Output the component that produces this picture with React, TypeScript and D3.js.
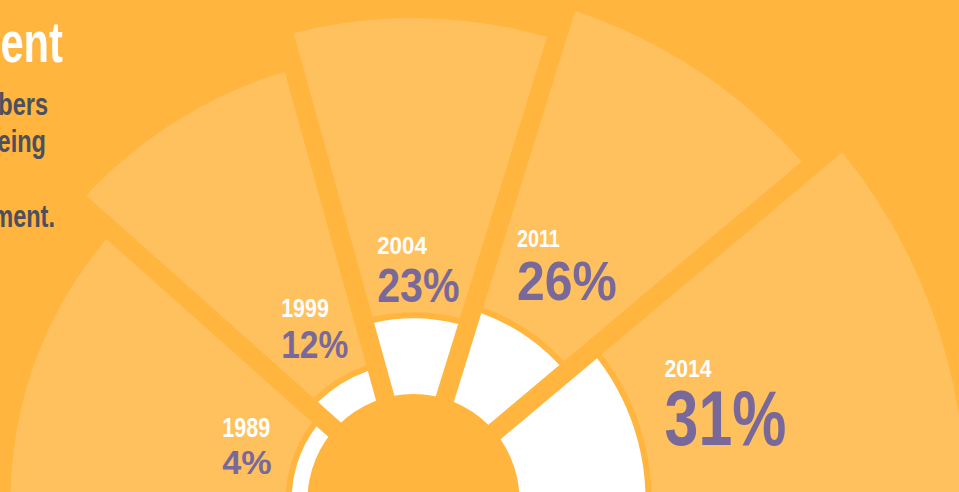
import React from 'react';
import * as d3 from 'd3';

// ---- data ----
const years: string[] = ['1989', '1999', '2004', '2011', '2014'];
const shares: number[] = [4, 12, 23, 26, 31]; // percent
const outerReach: number[] = [73, 81, 87.3, 93.3, 100]; // backdrop wedge extent, % of the largest
const titleFragment = 'ent';
const subtitleFragments: string[] = ['bers', 'eing', '', 'ment.'];

// ---- layout ----
const W = 959;
const H = 492;
const CX = 413.5;
const CY = 500;
const HUB_R = 106;
const BAND = 6;
const GAP = 19;
const ROTATION = 0.85;
const MID_SPAN = 32.75;
const SWEEP = 200;
const END_WEIGHT = (SWEEP - 3 * MID_SPAN) / 2 / MID_SPAN;
const sliceWeights = [END_WEIGHT, 1, 1, 1, END_WEIGHT];

const labelLayout = [
  { angle: -82.3, radius: 193, pct: 33.5, year: 27, pctSq: 1.02, yearSq: 0.8 },
  { angle: -43, radius: 194, pct: 39, year: 25.5, pctSq: 0.86, yearSq: 0.84 },
  { angle: -10.4, radius: 201, pct: 49, year: 23.5, pctSq: 0.84, yearSq: 0.95 },
  { angle: 27.4, radius: 225, pct: 56, year: 23.5, pctSq: 0.89, yearSq: 0.84 },
  { angle: 77.7, radius: 257, pct: 77, year: 23.5, pctSq: 0.79, yearSq: 0.9 },
];
const subtitleEnds = [48, 46, 46, 55];
const TITLE_SQUEEZE = 0.72;
const SUB_SQUEEZE = 0.76;

const COLORS = {
  bg: '#FFB53E',
  wedge: '#FFC05E',
  bar: '#FFFFFF',
  pct: '#78699A',
  year: '#FFFFFF',
  title: '#FFFFFF',
  sub: '#4C505C',
};
const FONT = "'Liberation Sans', Arial, sans-serif";

const rad = (deg: number) => (deg * Math.PI) / 180;

export default function App() {
  const rShare = d3.scalePow().exponent(2).domain([0, 31]).range([120, 232]);
  const rReach = d3.scaleLinear().domain([0, 100]).range([0, 552]);

  const pie = d3
    .pie<number>()
    .sort(null)
    .value((_d, i) => sliceWeights[i])
    .startAngle(rad(-SWEEP / 2 + ROTATION))
    .endAngle(rad(SWEEP / 2 + ROTATION));
  const slices = pie(shares);

  const arc = d3.arc<any>().padAngle(GAP / 100).padRadius(100);

  return (
    <svg
      width={W}
      height={H}
      style={{ position: 'fixed', left: 0, top: 0, display: 'block' }}
    >
      <rect x={0} y={0} width={W} height={H} fill={COLORS.bg} />
      <g transform={`translate(${CX},${CY})`}>
        {slices.map((s, i) => (
          <path
            key={'w' + i}
            d={
              arc({
                ...s,
                innerRadius: rShare(shares[i]) + BAND,
                outerRadius: rReach(outerReach[i]),
              }) as string
            }
            fill={COLORS.wedge}
          />
        ))}
        {slices.map((s, i) => (
          <path
            key={'b' + i}
            d={
              arc({
                ...s,
                innerRadius: HUB_R - 4,
                outerRadius: rShare(shares[i]),
              }) as string
            }
            fill={COLORS.bar}
          />
        ))}
        <circle cx={0} cy={0} r={HUB_R} fill={COLORS.bg} />
        {labelLayout.map((l, i) => {
          const x = l.radius * Math.sin(rad(l.angle));
          const y = -l.radius * Math.cos(rad(l.angle));
          return (
            <g key={'l' + i} fontFamily={FONT} fontWeight="bold">
              <text
                transform={`translate(${x},${y - l.pct * 0.716 - 13}) scale(${l.yearSq},1)`}
                fontSize={l.year}
                fill={COLORS.year}
              >
                {years[i]}
              </text>
              <text
                transform={`translate(${x},${y}) scale(${l.pctSq},1)`}
                fontSize={l.pct}
                fill={COLORS.pct}
              >
                {shares[i]}%
              </text>
            </g>
          );
        })}
      </g>
      <text
        transform={`translate(63,61.7) scale(${TITLE_SQUEEZE},1)`}
        textAnchor="end"
        fontFamily={FONT}
        fontWeight="bold"
        fontSize={58}
        fill={COLORS.title}
      >
        {titleFragment}
      </text>
      {subtitleFragments.map((t, i) => (
        <text
          key={'s' + i}
          transform={`translate(${subtitleEnds[i]},${115 + i * 37.2}) scale(${SUB_SQUEEZE},1)`}
          textAnchor="end"
          fontFamily={FONT}
          fontWeight="bold"
          fontSize={31}
          fill={COLORS.sub}
        >
          {t}
        </text>
      ))}
    </svg>
  );
}
